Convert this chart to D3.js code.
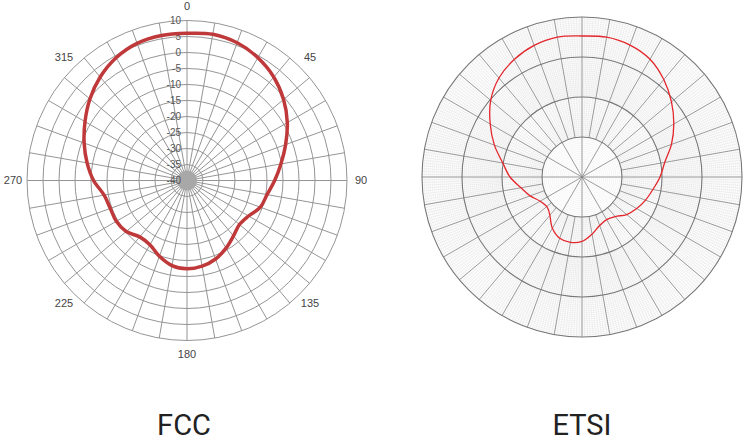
<!DOCTYPE html>
<html lang="en">
<head>
<meta charset="utf-8">
<title>FCC vs ETSI polar patterns</title>
<script src="https://cdn.jsdelivr.net/npm/d3@7"></script>
<style>
  body { margin: 0; background: #fff; }
  svg text { font-family: "Liberation Sans", Arial, sans-serif; }
  .title { font-family: Roboto, "Liberation Sans", sans-serif; font-size: 29px; fill: #222; }
</style>
</head>
<body>
<script>
// FCC pattern, gain in dB every 10 degrees
var fccAngles = [0, 10, 20, 30, 40, 50, 60, 70, 80, 90, 100, 110, 120, 130, 140, 150, 160, 170,
                 180, 190, 200, 210, 220, 230, 240, 250, 260, 270, 280, 290, 300, 310, 320, 330, 340, 350];
var fccGain = [6.0, 6.4, 5.8, 4.3, 2.2, -0.6, -3.8, -7.2, -10.2, -12.6, -14.6, -15.6, -17.8, -18.6, -17.4, -15.6, -13.9, -12.8,
               -12.4, -13.0, -14.8, -16.8, -17.0, -15.2, -14.5, -14.5, -13.7, -10.8, -8.3, -5.8, -3.2, -0.4, 2.2, 4.3, 5.6, 6.0];

// ETSI pattern, gain in dB
var etsiAngles = [0, 10, 20, 30, 40, 50, 60, 70, 80, 90, 100, 110, 120, 130, 140, 150, 160, 170,
                  180, 190, 200, 210, 220, 225, 230, 240, 250, 260, 270, 280, 290, 300, 310, 320, 330, 340, 350];
var etsiGain = [-4.75, -4.5, -4.9, -6.0, -8.2, -10.8, -13.5, -16.2, -19.0, -20.5, -22.0, -23.1, -24.2, -25.4, -27.1, -27.7, -27.1, -25.5,
                -23.9, -23.4, -23.7, -25.2, -27.5, -28.2, -28.5, -27.9, -26.2, -24.5, -22.0, -19.9, -16.7, -13.5, -10.2, -7.7, -6.1, -5.0, -4.5];

var fccRingTicks = [10, 5, 0, -5, -10, -15, -20, -25, -30, -35, -40];
var fccAngleTicks = [0, 45, 90, 135, 180, 225, 270, 315];
var etsiMajorRings = [-30, -20, -10, 0];
var titles = ["FCC", "ETSI"];

var w = 748, h = 444;
var rad = Math.PI / 180;

var svg = d3.select("body").append("svg")
    .attr("width", w)
    .attr("height", h);

svg.append("rect").attr("width", w).attr("height", h).attr("fill", "#fff");

function spoke(g, a, r0, r1, color, width) {
  g.append("line")
    .attr("x1", r0 * Math.sin(a * rad)).attr("y1", -r0 * Math.cos(a * rad))
    .attr("x2", r1 * Math.sin(a * rad)).attr("y2", -r1 * Math.cos(a * rad))
    .attr("stroke", color).attr("stroke-width", width);
}

// ---------- FCC (left) ----------
var fcx = 187, fcy = 180.5, fR = 160;
var rFcc = d3.scaleLinear().domain([-40, 10]).range([0, fR]);
var g1 = svg.append("g").attr("transform", "translate(" + fcx + "," + fcy + ")");

d3.range(0, 360, 10).forEach(function(a) { spoke(g1, a, 0, fR, "#959595", 1); });

g1.selectAll("circle.ring")
  .data(fccRingTicks.filter(function(d) { return d > -40; }))
  .enter().append("circle")
  .attr("class", "ring")
  .attr("r", function(d) { return rFcc(d); })
  .attr("fill", "none")
  .attr("stroke", "#959595")
  .attr("stroke-width", 1);

g1.append("circle").attr("r", 10).attr("fill", "#a8a8a8");

g1.selectAll("text.rlab")
  .data(fccRingTicks)
  .enter().append("text")
  .attr("class", "rlab")
  .attr("x", -6)
  .attr("y", function(d) { return -rFcc(d); })
  .attr("dy", "0.35em")
  .attr("text-anchor", "end")
  .attr("font-size", "10px")
  .attr("fill", "#555")
  .text(function(d) { return d; });

g1.selectAll("text.alab")
  .data(fccAngleTicks)
  .enter().append("text")
  .attr("class", "alab")
  .attr("x", function(d) { return 174 * Math.sin(d * rad); })
  .attr("y", function(d) { return -174 * Math.cos(d * rad); })
  .attr("dy", "0.35em")
  .attr("text-anchor", "middle")
  .attr("font-size", "11px")
  .attr("fill", "#444")
  .text(function(d) { return d; });

var fccLine = d3.lineRadial()
  .angle(function(d) { return d[0] * rad; })
  .radius(function(d) { return rFcc(d[1]); })
  .curve(d3.curveCatmullRomClosed);

g1.append("path")
  .attr("d", fccLine(d3.zip(fccAngles, fccGain)))
  .attr("fill", "none")
  .attr("stroke", "#c0393a")
  .attr("stroke-width", 3.5);

// ---------- ETSI (right) ----------
var ecx = 582, ecy = 177, eR = 160;
var rEtsi = d3.scaleLinear().domain([-40, 0]).range([0, eR]);
var g2 = svg.append("g").attr("transform", "translate(" + ecx + "," + ecy + ")");

// fine rings
g2.selectAll("circle.fine")
  .data(d3.range(2, eR, 2))
  .enter().append("circle")
  .attr("class", "fine")
  .attr("r", function(d) { return d; })
  .attr("fill", "none")
  .attr("stroke", "#e4e4e4")
  .attr("stroke-width", 0.4);

// fine spokes
d3.range(0, 360, 2).forEach(function(a) { spoke(g2, a, rEtsi(-30), eR, "#dcdcdc", 0.4); });
d3.range(1, 360, 2).forEach(function(a) { spoke(g2, a, rEtsi(-20), eR, "#dcdcdc", 0.4); });

// major spokes
d3.range(0, 360, 10).forEach(function(a) { spoke(g2, a, rEtsi(-30), eR, "#858585", 0.8); });
d3.range(0, 360, 30).forEach(function(a) { spoke(g2, a, 0, rEtsi(-30), "#858585", 0.8); });

g2.selectAll("circle.major")
  .data(etsiMajorRings)
  .enter().append("circle")
  .attr("class", "major")
  .attr("r", function(d) { return rEtsi(d); })
  .attr("fill", "none")
  .attr("stroke", "#777")
  .attr("stroke-width", 1.1);

var etsiLine = d3.lineRadial()
  .angle(function(d) { return d[0] * rad; })
  .radius(function(d) { return rEtsi(d[1]); })
  .curve(d3.curveCatmullRomClosed);

g2.append("path")
  .attr("d", etsiLine(d3.zip(etsiAngles, etsiGain)))
  .attr("fill", "none")
  .attr("stroke", "#e3262b")
  .attr("stroke-width", 1.3);

// ---------- titles ----------
svg.selectAll("text.title")
  .data(titles)
  .enter().append("text")
  .attr("class", "title")
  .attr("x", function(d, i) { return i === 0 ? 184 : 582; })
  .attr("y", 435)
  .attr("text-anchor", "middle")
  .text(function(d) { return d; });
</script>
</body>
</html>
